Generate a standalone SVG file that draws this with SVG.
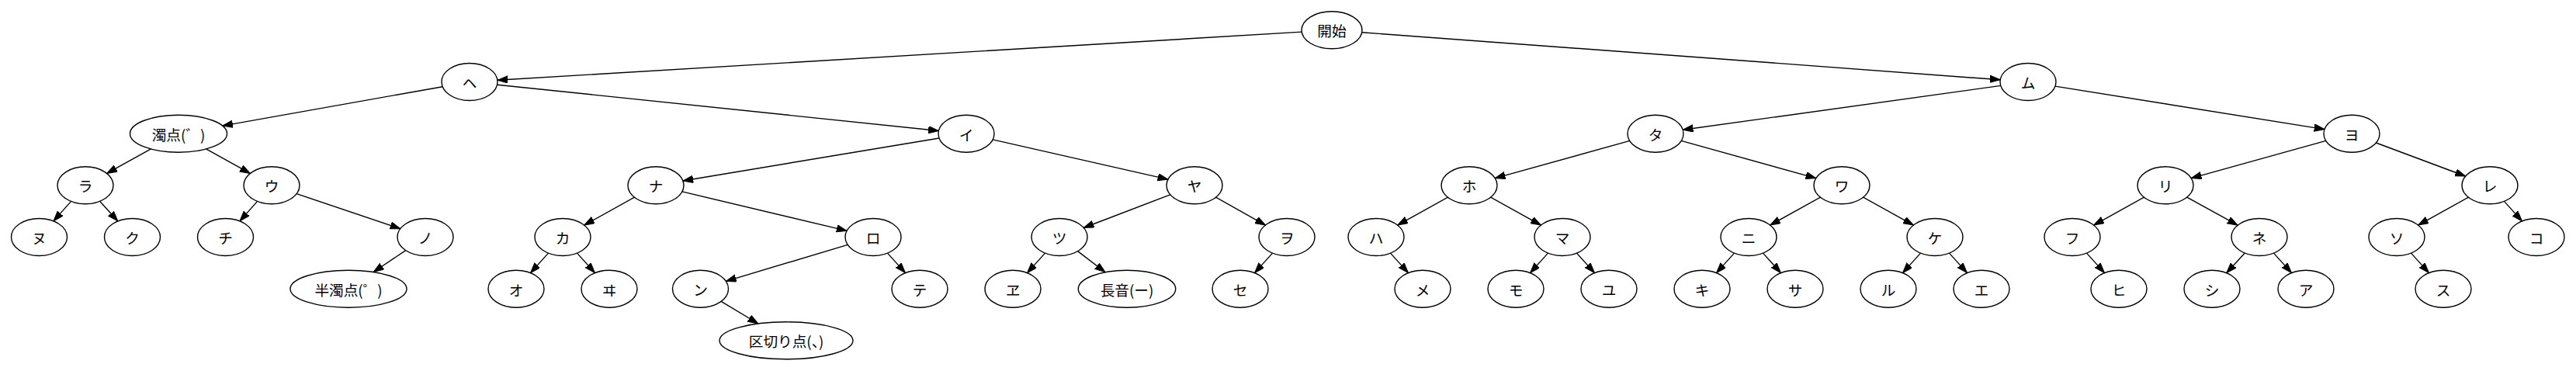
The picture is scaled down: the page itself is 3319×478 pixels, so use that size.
<svg xmlns="http://www.w3.org/2000/svg" width="3319" height="478" viewBox="0 0 3319 478">
<style>
.node ellipse{fill:none;stroke:#000;stroke-width:1.4}
.node text{font-family:"Noto Sans CJK JP","Noto Sans CJK SC",sans-serif;font-size:18.67px;text-anchor:middle;dominant-baseline:central;fill:#000}
#edges line{stroke:#000;stroke-width:1.4;marker-end:url(#arr)}
</style>
<defs>
<marker id="arr" markerUnits="userSpaceOnUse" markerWidth="14" markerHeight="10" refX="13.3" refY="4.67" orient="auto" viewBox="0 0 14 10">
<path d="M0,0 L13.3,4.67 L0,9.33 z" fill="#000" stroke="#000" stroke-width="1"/>
</marker>
</defs>
<rect width="3319" height="478" fill="#fff"/>
<g id="edges">
<line x1="1677.2" y1="41.1" x2="640.9" y2="103.3"/>
<line x1="1754.7" y1="41.7" x2="2577.2" y2="102.8"/>
<line x1="570.2" y1="111.7" x2="286.7" y2="162.1"/>
<line x1="640.6" y1="109.2" x2="1209.4" y2="168.5"/>
<line x1="194.5" y1="191.9" x2="137.6" y2="223.4"/>
<line x1="265.5" y1="191.9" x2="322.4" y2="223.4"/>
<line x1="91.6" y1="259.4" x2="68.9" y2="284.9"/>
<line x1="128.6" y1="259.3" x2="151.9" y2="285.0"/>
<line x1="331.6" y1="259.4" x2="308.9" y2="284.9"/>
<line x1="382.1" y1="249.6" x2="515.9" y2="294.7"/>
<line x1="522.7" y1="322.6" x2="481.2" y2="350.5"/>
<line x1="1210.1" y1="178.0" x2="879.9" y2="233.0"/>
<line x1="1279.1" y1="179.9" x2="1504.9" y2="231.1"/>
<line x1="817.4" y1="254.2" x2="752.7" y2="290.1"/>
<line x1="878.9" y1="246.9" x2="1091.1" y2="297.4"/>
<line x1="706.5" y1="326.1" x2="683.5" y2="351.6"/>
<line x1="743.5" y1="326.1" x2="766.5" y2="351.6"/>
<line x1="1092.2" y1="315.3" x2="935.3" y2="362.4"/>
<line x1="1143.5" y1="326.1" x2="1166.5" y2="351.6"/>
<line x1="929.2" y1="388.3" x2="976.9" y2="417.0"/>
<line x1="1507.8" y1="250.8" x2="1396.2" y2="293.5"/>
<line x1="1566.6" y1="254.2" x2="1630.5" y2="290.1"/>
<line x1="1346.5" y1="326.1" x2="1323.5" y2="351.6"/>
<line x1="1388.6" y1="323.6" x2="1424.0" y2="350.7"/>
<line x1="1639.5" y1="326.1" x2="1616.5" y2="351.6"/>
<line x1="2577.8" y1="110.4" x2="2168.2" y2="167.3"/>
<line x1="2648.0" y1="111.1" x2="2995.0" y2="166.6"/>
<line x1="2099.8" y1="181.4" x2="1926.2" y2="229.6"/>
<line x1="2166.2" y1="181.4" x2="2339.8" y2="229.6"/>
<line x1="1865.4" y1="254.2" x2="1800.7" y2="290.1"/>
<line x1="1920.7" y1="254.2" x2="1985.4" y2="290.1"/>
<line x1="1791.5" y1="326.1" x2="1814.5" y2="351.6"/>
<line x1="1994.5" y1="326.1" x2="1971.5" y2="351.6"/>
<line x1="2031.5" y1="326.1" x2="2054.5" y2="351.6"/>
<line x1="2345.4" y1="254.2" x2="2280.7" y2="290.1"/>
<line x1="2400.7" y1="254.2" x2="2465.4" y2="290.1"/>
<line x1="2234.5" y1="326.1" x2="2211.5" y2="351.6"/>
<line x1="2271.5" y1="326.1" x2="2294.5" y2="351.6"/>
<line x1="2474.5" y1="326.1" x2="2451.5" y2="351.6"/>
<line x1="2511.5" y1="326.1" x2="2534.5" y2="351.6"/>
<line x1="2996.8" y1="181.4" x2="2823.2" y2="229.6"/>
<line x1="3061.4" y1="184.0" x2="3176.6" y2="227.0"/>
<line x1="2762.4" y1="254.2" x2="2697.7" y2="290.1"/>
<line x1="2817.7" y1="254.1" x2="2883.2" y2="290.2"/>
<line x1="2688.5" y1="326.1" x2="2711.5" y2="351.6"/>
<line x1="2892.3" y1="326.0" x2="2868.7" y2="351.7"/>
<line x1="2929.5" y1="326.1" x2="2952.5" y2="351.6"/>
<line x1="3180.4" y1="254.2" x2="3115.7" y2="290.1"/>
<line x1="3226.5" y1="259.4" x2="3249.5" y2="284.9"/>
<line x1="3106.5" y1="326.1" x2="3129.5" y2="351.6"/>
</g>
<g id="kaishi" class="node"><ellipse cx="1716" cy="38.8" rx="39" ry="24"/><text x="1716" y="38.8">開始</text></g>
<g id="he" class="node"><ellipse cx="605" cy="105.5" rx="36" ry="24"/><text x="605" y="105.5">ヘ</text></g>
<g id="mu" class="node"><ellipse cx="2613" cy="105.5" rx="36" ry="24"/><text x="2613" y="105.5">ム</text></g>
<g id="dakuten" class="node"><ellipse cx="230" cy="172.2" rx="62.5" ry="24"/><text x="230" y="172.2">濁点(゛)</text></g>
<g id="i" class="node"><ellipse cx="1245" cy="172.2" rx="36" ry="24"/><text x="1245" y="172.2">イ</text></g>
<g id="ta" class="node"><ellipse cx="2133" cy="172.2" rx="36" ry="24"/><text x="2133" y="172.2">タ</text></g>
<g id="yo" class="node"><ellipse cx="3030" cy="172.2" rx="36" ry="24"/><text x="3030" y="172.2">ヨ</text></g>
<g id="ra" class="node"><ellipse cx="110" cy="238.8" rx="36" ry="24"/><text x="110" y="238.8">ラ</text></g>
<g id="u" class="node"><ellipse cx="350" cy="238.8" rx="36" ry="24"/><text x="350" y="238.8">ウ</text></g>
<g id="na" class="node"><ellipse cx="845" cy="238.8" rx="36" ry="24"/><text x="845" y="238.8">ナ</text></g>
<g id="ya" class="node"><ellipse cx="1539" cy="238.8" rx="36" ry="24"/><text x="1539" y="238.8">ヤ</text></g>
<g id="ho" class="node"><ellipse cx="1893" cy="238.8" rx="36" ry="24"/><text x="1893" y="238.8">ホ</text></g>
<g id="wa" class="node"><ellipse cx="2373" cy="238.8" rx="36" ry="24"/><text x="2373" y="238.8">ワ</text></g>
<g id="ri" class="node"><ellipse cx="2790" cy="238.8" rx="36" ry="24"/><text x="2790" y="238.8">リ</text></g>
<g id="re" class="node"><ellipse cx="3208" cy="238.8" rx="36" ry="24"/><text x="3208" y="238.8">レ</text></g>
<g id="nu" class="node"><ellipse cx="50.5" cy="305.5" rx="36" ry="24"/><text x="50.5" y="305.5">ヌ</text></g>
<g id="ku" class="node"><ellipse cx="170.5" cy="305.5" rx="36" ry="24"/><text x="170.5" y="305.5">ク</text></g>
<g id="chi" class="node"><ellipse cx="290.5" cy="305.5" rx="36" ry="24"/><text x="290.5" y="305.5">チ</text></g>
<g id="no" class="node"><ellipse cx="548" cy="305.5" rx="36" ry="24"/><text x="548" y="305.5">ノ</text></g>
<g id="ka" class="node"><ellipse cx="725" cy="305.5" rx="36" ry="24"/><text x="725" y="305.5">カ</text></g>
<g id="ro" class="node"><ellipse cx="1125" cy="305.5" rx="36" ry="24"/><text x="1125" y="305.5">ロ</text></g>
<g id="tsu" class="node"><ellipse cx="1365" cy="305.5" rx="36" ry="24"/><text x="1365" y="305.5">ツ</text></g>
<g id="wo" class="node"><ellipse cx="1658" cy="305.5" rx="36" ry="24"/><text x="1658" y="305.5">ヲ</text></g>
<g id="ha" class="node"><ellipse cx="1773" cy="305.5" rx="36" ry="24"/><text x="1773" y="305.5">ハ</text></g>
<g id="ma" class="node"><ellipse cx="2013" cy="305.5" rx="36" ry="24"/><text x="2013" y="305.5">マ</text></g>
<g id="ni" class="node"><ellipse cx="2253" cy="305.5" rx="36" ry="24"/><text x="2253" y="305.5">ニ</text></g>
<g id="ke" class="node"><ellipse cx="2493" cy="305.5" rx="36" ry="24"/><text x="2493" y="305.5">ケ</text></g>
<g id="fu" class="node"><ellipse cx="2670" cy="305.5" rx="36" ry="24"/><text x="2670" y="305.5">フ</text></g>
<g id="ne" class="node"><ellipse cx="2911" cy="305.5" rx="36" ry="24"/><text x="2911" y="305.5">ネ</text></g>
<g id="so" class="node"><ellipse cx="3088" cy="305.5" rx="36" ry="24"/><text x="3088" y="305.5">ソ</text></g>
<g id="ko" class="node"><ellipse cx="3268" cy="305.5" rx="36" ry="24"/><text x="3268" y="305.5">コ</text></g>
<g id="handakuten" class="node"><ellipse cx="449" cy="372.2" rx="75" ry="24"/><text x="449" y="372.2">半濁点(゜)</text></g>
<g id="o" class="node"><ellipse cx="665" cy="372.2" rx="36" ry="24"/><text x="665" y="372.2">オ</text></g>
<g id="wi" class="node"><ellipse cx="785" cy="372.2" rx="36" ry="24"/><text x="785" y="372.2">ヰ</text></g>
<g id="n" class="node"><ellipse cx="902.5" cy="372.2" rx="36" ry="24"/><text x="902.5" y="372.2">ン</text></g>
<g id="te" class="node"><ellipse cx="1185" cy="372.2" rx="36" ry="24"/><text x="1185" y="372.2">テ</text></g>
<g id="we" class="node"><ellipse cx="1305" cy="372.2" rx="36" ry="24"/><text x="1305" y="372.2">ヱ</text></g>
<g id="chouon" class="node"><ellipse cx="1452" cy="372.2" rx="62.7" ry="24"/><text x="1452" y="372.2">長音(ー)</text></g>
<g id="se" class="node"><ellipse cx="1598" cy="372.2" rx="36" ry="24"/><text x="1598" y="372.2">セ</text></g>
<g id="me" class="node"><ellipse cx="1833" cy="372.2" rx="36" ry="24"/><text x="1833" y="372.2">メ</text></g>
<g id="mo" class="node"><ellipse cx="1953" cy="372.2" rx="36" ry="24"/><text x="1953" y="372.2">モ</text></g>
<g id="yu" class="node"><ellipse cx="2073" cy="372.2" rx="36" ry="24"/><text x="2073" y="372.2">ユ</text></g>
<g id="ki" class="node"><ellipse cx="2193" cy="372.2" rx="36" ry="24"/><text x="2193" y="372.2">キ</text></g>
<g id="sa" class="node"><ellipse cx="2313" cy="372.2" rx="36" ry="24"/><text x="2313" y="372.2">サ</text></g>
<g id="ru" class="node"><ellipse cx="2433" cy="372.2" rx="36" ry="24"/><text x="2433" y="372.2">ル</text></g>
<g id="e" class="node"><ellipse cx="2553" cy="372.2" rx="36" ry="24"/><text x="2553" y="372.2">エ</text></g>
<g id="hi" class="node"><ellipse cx="2730" cy="372.2" rx="36" ry="24"/><text x="2730" y="372.2">ヒ</text></g>
<g id="shi" class="node"><ellipse cx="2850" cy="372.2" rx="36" ry="24"/><text x="2850" y="372.2">シ</text></g>
<g id="a" class="node"><ellipse cx="2971" cy="372.2" rx="36" ry="24"/><text x="2971" y="372.2">ア</text></g>
<g id="su" class="node"><ellipse cx="3148" cy="372.2" rx="36" ry="24"/><text x="3148" y="372.2">ス</text></g>
<g id="kugiri" class="node"><ellipse cx="1013" cy="438.8" rx="86" ry="24"/><text x="1013" y="438.8">区切り点(、)</text></g>
</svg>
